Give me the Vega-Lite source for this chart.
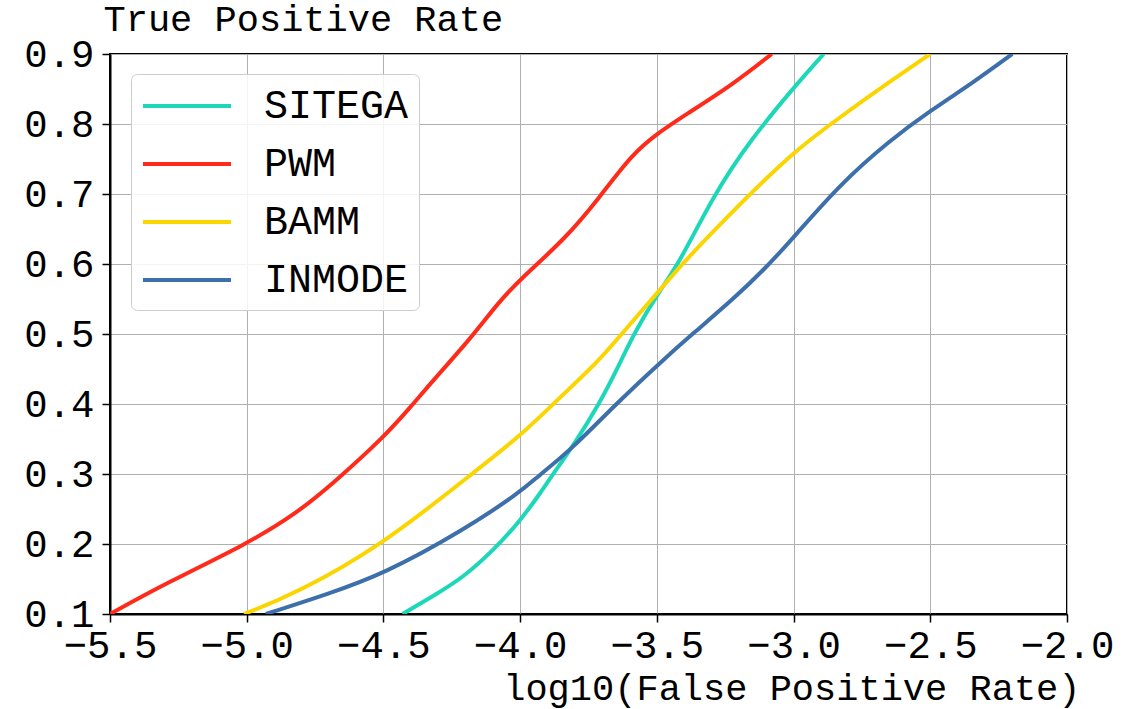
{
  "$schema": "https://vega.github.io/schema/vega-lite/v6.json",
  "width": 957,
  "height": 560,
  "autosize": {"type": "none"},
  "padding": {"left": 110, "top": 54, "right": 73, "bottom": 95},
  "background": "white",
  "config": {
    "font": "Liberation Mono",
    "view": {"stroke": "black", "strokeWidth": 2}
  },
  "data": {
    "values": [
      {"method": "SITEGA", "fpr": -4.43, "tpr": 0.10},
      {"method": "SITEGA", "fpr": -4.30, "tpr": 0.13},
      {"method": "SITEGA", "fpr": -4.21, "tpr": 0.152},
      {"method": "SITEGA", "fpr": -4.10, "tpr": 0.19},
      {"method": "SITEGA", "fpr": -4.00, "tpr": 0.233},
      {"method": "SITEGA", "fpr": -3.92, "tpr": 0.276},
      {"method": "SITEGA", "fpr": -3.88, "tpr": 0.30},
      {"method": "SITEGA", "fpr": -3.81, "tpr": 0.338},
      {"method": "SITEGA", "fpr": -3.71, "tpr": 0.40},
      {"method": "SITEGA", "fpr": -3.63, "tpr": 0.462},
      {"method": "SITEGA", "fpr": -3.585, "tpr": 0.50},
      {"method": "SITEGA", "fpr": -3.49, "tpr": 0.562},
      {"method": "SITEGA", "fpr": -3.42, "tpr": 0.60},
      {"method": "SITEGA", "fpr": -3.29, "tpr": 0.70},
      {"method": "SITEGA", "fpr": -3.16, "tpr": 0.776},
      {"method": "SITEGA", "fpr": -3.00, "tpr": 0.852},
      {"method": "SITEGA", "fpr": -2.89, "tpr": 0.90},

      {"method": "PWM", "fpr": -5.50, "tpr": 0.10},
      {"method": "PWM", "fpr": -5.29, "tpr": 0.145},
      {"method": "PWM", "fpr": -5.00, "tpr": 0.20},
      {"method": "PWM", "fpr": -4.82, "tpr": 0.243},
      {"method": "PWM", "fpr": -4.68, "tpr": 0.288},
      {"method": "PWM", "fpr": -4.50, "tpr": 0.352},
      {"method": "PWM", "fpr": -4.40, "tpr": 0.396},
      {"method": "PWM", "fpr": -4.32, "tpr": 0.433},
      {"method": "PWM", "fpr": -4.18, "tpr": 0.494},
      {"method": "PWM", "fpr": -4.08, "tpr": 0.545},
      {"method": "PWM", "fpr": -4.00, "tpr": 0.578},
      {"method": "PWM", "fpr": -3.83, "tpr": 0.638},
      {"method": "PWM", "fpr": -3.71, "tpr": 0.695},
      {"method": "PWM", "fpr": -3.59, "tpr": 0.757},
      {"method": "PWM", "fpr": -3.50, "tpr": 0.786},
      {"method": "PWM", "fpr": -3.40, "tpr": 0.812},
      {"method": "PWM", "fpr": -3.22, "tpr": 0.857},
      {"method": "PWM", "fpr": -3.08, "tpr": 0.90},

      {"method": "BAMM", "fpr": -5.01, "tpr": 0.10},
      {"method": "BAMM", "fpr": -4.82, "tpr": 0.129},
      {"method": "BAMM", "fpr": -4.50, "tpr": 0.20},
      {"method": "BAMM", "fpr": -4.21, "tpr": 0.29},
      {"method": "BAMM", "fpr": -4.00, "tpr": 0.354},
      {"method": "BAMM", "fpr": -3.88, "tpr": 0.40},
      {"method": "BAMM", "fpr": -3.71, "tpr": 0.462},
      {"method": "BAMM", "fpr": -3.63, "tpr": 0.50},
      {"method": "BAMM", "fpr": -3.49, "tpr": 0.562},
      {"method": "BAMM", "fpr": -3.41, "tpr": 0.60},
      {"method": "BAMM", "fpr": -3.16, "tpr": 0.70},
      {"method": "BAMM", "fpr": -3.00, "tpr": 0.760},
      {"method": "BAMM", "fpr": -2.83, "tpr": 0.81},
      {"method": "BAMM", "fpr": -2.65, "tpr": 0.86},
      {"method": "BAMM", "fpr": -2.50, "tpr": 0.90},

      {"method": "INMODE", "fpr": -4.93, "tpr": 0.10},
      {"method": "INMODE", "fpr": -4.70, "tpr": 0.129},
      {"method": "INMODE", "fpr": -4.50, "tpr": 0.157},
      {"method": "INMODE", "fpr": -4.21, "tpr": 0.219},
      {"method": "INMODE", "fpr": -4.00, "tpr": 0.274},
      {"method": "INMODE", "fpr": -3.94, "tpr": 0.295},
      {"method": "INMODE", "fpr": -3.81, "tpr": 0.336},
      {"method": "INMODE", "fpr": -3.65, "tpr": 0.40},
      {"method": "INMODE", "fpr": -3.48, "tpr": 0.462},
      {"method": "INMODE", "fpr": -3.37, "tpr": 0.50},
      {"method": "INMODE", "fpr": -3.22, "tpr": 0.55},
      {"method": "INMODE", "fpr": -3.10, "tpr": 0.595},
      {"method": "INMODE", "fpr": -3.00, "tpr": 0.638},
      {"method": "INMODE", "fpr": -2.83, "tpr": 0.714},
      {"method": "INMODE", "fpr": -2.65, "tpr": 0.776},
      {"method": "INMODE", "fpr": -2.50, "tpr": 0.819},
      {"method": "INMODE", "fpr": -2.34, "tpr": 0.86},
      {"method": "INMODE", "fpr": -2.20, "tpr": 0.90}
    ]
  },
  "mark": {"type": "line", "interpolate": "basis", "strokeWidth": 4, "clip": true},
  "encoding": {
    "x": {
      "field": "fpr",
      "type": "quantitative",
      "scale": {"domain": [-5.5, -2.0], "nice": false, "zero": false},
      "axis": {
        "values": [-5.5, -5.0, -4.5, -4.0, -3.5, -3.0, -2.5, -2.0],
        "format": ".1f",
        "title": "log10(False Positive Rate)",
        "titleFontSize": 37,
        "titleFontWeight": "normal",
        "titleColor": "black",
        "titleX": 970,
        "titleY": 85,
        "titleAlign": "right",
        "titleAnchor": null,
        "titleBaseline": "alphabetic",
        "labelFontSize": 39,
        "labelColor": "black",
        "labelPadding": 4,
        "labelFlush": false,
        "labelOverlap": false,
        "tickSize": 8,
        "tickWidth": 1.5,
        "tickColor": "black",
        "domainColor": "black",
        "domainWidth": 2,
        "grid": true,
        "gridColor": "#b0b0b0",
        "gridWidth": 1
      }
    },
    "y": {
      "field": "tpr",
      "type": "quantitative",
      "scale": {"domain": [0.1, 0.9], "nice": false, "zero": false},
      "axis": {
        "values": [0.1, 0.2, 0.3, 0.4, 0.5, 0.6, 0.7, 0.8, 0.9],
        "format": ".1f",
        "title": "True Positive Rate",
        "titleFontSize": 37,
        "titleFontWeight": "normal",
        "titleColor": "black",
        "titleAngle": 0,
        "titleX": -7,
        "titleY": -24,
        "titleAlign": "left",
        "titleAnchor": null,
        "titleBaseline": "alphabetic",
        "labelFontSize": 39,
        "labelColor": "black",
        "labelPadding": 8,
        "labelFlush": false,
        "labelOverlap": false,
        "labelBaseline": "middle",
        "tickSize": 8,
        "tickWidth": 1.5,
        "tickColor": "black",
        "domainColor": "black",
        "domainWidth": 2,
        "grid": true,
        "gridColor": "#b0b0b0",
        "gridWidth": 1
      }
    },
    "color": {
      "field": "method",
      "type": "nominal",
      "scale": {
        "domain": ["SITEGA", "PWM", "BAMM", "INMODE"],
        "range": ["#1dd8b8", "#fe2a1a", "#fbd500", "#3d6fab"]
      },
      "legend": {
        "title": null,
        "orient": "none",
        "legendX": 21,
        "legendY": 20,
        "padding": 10,
        "fillColor": "rgba(255,255,255,0.85)",
        "strokeColor": "#cccccc",
        "cornerRadius": 6,
        "symbolType": "M-2.2,0L2.2,0",
        "symbolSize": 1600,
        "symbolStrokeWidth": 4,
        "symbolOffset": 24,
        "labelFontSize": 40,
        "labelColor": "black",
        "labelOffset": 55,
        "rowPadding": 16,
        "labelLimit": 400
      }
    }
  }
}
